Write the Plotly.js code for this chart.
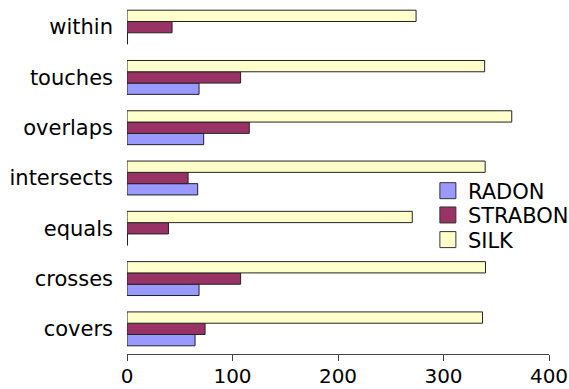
<!DOCTYPE html>
<html>
<head>
<meta charset="utf-8">
<script src="https://cdn.plot.ly/plotly-3.0.1.min.js"></script>
<style>html,body{margin:0;padding:0;background:#fff;}#chart{width:569px;height:389px;}</style>
</head>
<body>
<div id="chart"></div>
<script>
var categories = ["covers", "crosses", "equals", "intersects", "overlaps", "touches", "within"];
var radon   = [64.5, 68.3, 0.5, 67.0, 72.7, 68.3, 0.5];
var strabon = [74.0, 107.7, 39.3, 57.9, 115.9, 107.7, 42.7];
var silk    = [337.0, 339.8, 270.4, 339.5, 364.7, 339.0, 274.0];
var seriesNames = ["RADON", "STRABON", "SILK"];
var seriesColors = ["#9999ff", "#993366", "#ffffcc"];
var xTicks = [0, 100, 200, 300, 400];

var seriesData = [radon, strabon, silk];
var legendIds = ["legend", "legend2", "legend3"];
var traces = [];
seriesData.forEach(function (vals, i) {
  traces.push({
    type: "bar", orientation: "h", y: categories, x: vals,
    name: seriesNames[i], showlegend: false,
    marker: {color: seriesColors[i], line: {color: "#222222", width: 1}}
  });
});
seriesData.forEach(function (vals, i) {
  traces.push({
    type: "scatter", mode: "markers", x: [null], y: [null],
    name: seriesNames[i], showlegend: true, legend: legendIds[i],
    marker: {symbol: "square", size: 20, color: seriesColors[i], line: {color: "#333333", width: 1}}
  });
});

function legendAt(yPaper) {
  return {x: 0.713, y: yPaper, xanchor: "left", yanchor: "middle", bgcolor: "rgba(0,0,0,0)",
          font: {family: "DejaVu Sans", size: 21, color: "#000"}, itemsizing: "trace"};
}
var layout = {
  width: 569, height: 389,
  margin: {l: 126.5, r: 19.7, t: 2.4, b: 34.6, pad: 0, autoexpand: false},
  paper_bgcolor: "#ffffff", plot_bgcolor: "#ffffff",
  font: {family: "DejaVu Sans", size: 21, color: "#000000"},
  barmode: "group", bargap: 0.326, bargroupgap: 0,
  showlegend: true,
  legend: legendAt(0.463), legend2: legendAt(0.394), legend3: legendAt(0.324),
  xaxis: {range: [0, 400], tickvals: xTicks, ticktext: xTicks.map(String), showgrid: false, zeroline: false,
          showline: true, linecolor: "#444444", linewidth: 1, ticks: "outside", ticklen: 6, tickcolor: "#444444",
          ticklabeloverflow: "allow", ticklabelstandoff: -2,
          tickfont: {family: "DejaVu Sans", size: 20, color: "#000"}, fixedrange: true, automargin: false},
  yaxis: {type: "category", categoryorder: "array", categoryarray: categories, range: [-0.5, 6.5],
          showgrid: false, zeroline: false, showline: false, ticks: "", ticklabelstandoff: 13,
          tickfont: {family: "DejaVu Sans", size: 21, color: "#000"}, fixedrange: true, automargin: false}
};
Plotly.newPlot("chart", traces, layout, {displayModeBar: false, staticPlot: true});
</script>
</body>
</html>
